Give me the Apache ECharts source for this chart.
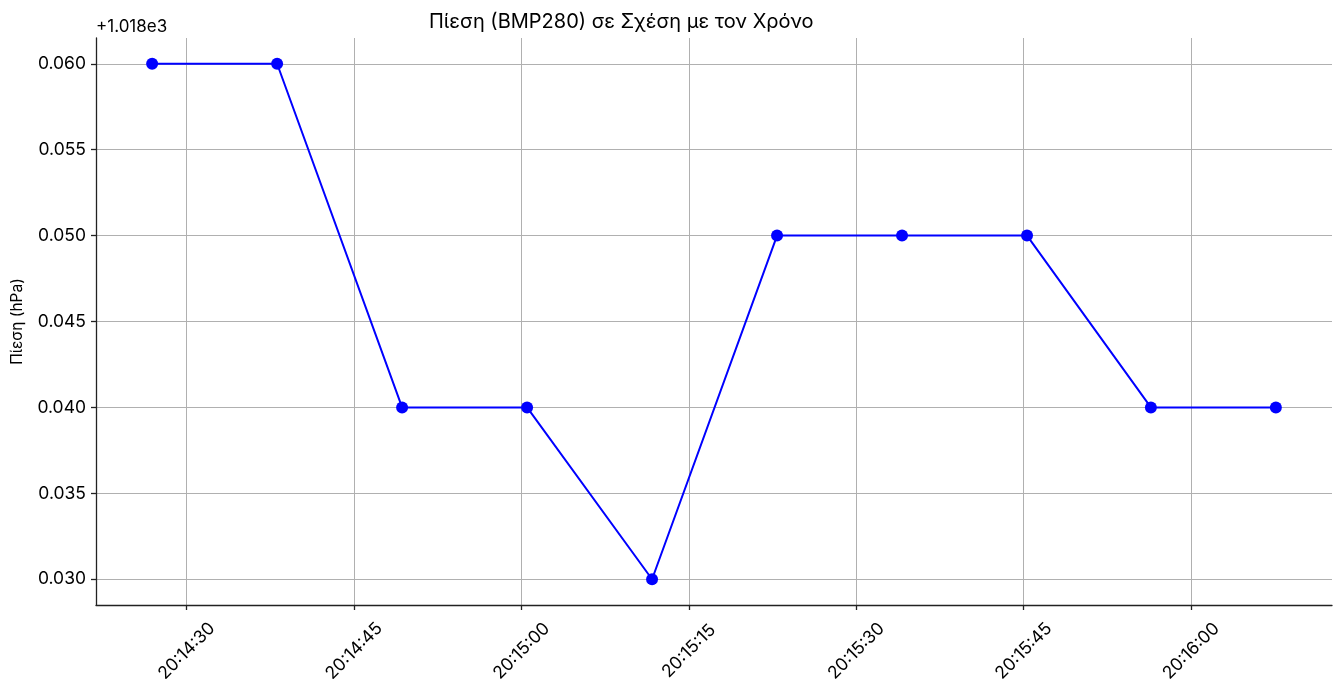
<!DOCTYPE html>
<html>
<head>
<meta charset="utf-8">
<script src="https://cdn.jsdelivr.net/npm/echarts@6/dist/echarts.min.js"></script>
<style>
  html, body { margin: 0; padding: 0; background: #fff; }
  #chart { width: 1341px; height: 679px; }
</style>
</head>
<body>
<div id="chart"></div>
<script>
// δεδομένα
var times = ['2024-01-01T20:14:26.900', '2024-01-01T20:14:38.100', '2024-01-01T20:14:49.300',
             '2024-01-01T20:15:00.500', '2024-01-01T20:15:11.700', '2024-01-01T20:15:22.900',
             '2024-01-01T20:15:34.100', '2024-01-01T20:15:45.300', '2024-01-01T20:15:56.400',
             '2024-01-01T20:16:07.600'];
var pressure = [1018.06, 1018.06, 1018.04, 1018.04, 1018.03, 1018.05, 1018.05, 1018.05, 1018.04, 1018.04];
var xTicks = ['2024-01-01T20:14:30', '2024-01-01T20:14:45', '2024-01-01T20:15:00', '2024-01-01T20:15:15',
              '2024-01-01T20:15:30', '2024-01-01T20:15:45', '2024-01-01T20:16:00'];
var yTicks = [1018.030, 1018.035, 1018.040, 1018.045, 1018.050, 1018.055, 1018.060];
var offset = 1018;

var font = 'Inter';
function ms(s) { return new Date(s).getTime(); }
var xTickValues = xTicks.map(ms);

var myChart = echarts.init(document.getElementById('chart'));
var option = {
    animation: false,
    textStyle: { fontFamily: font },
    title: {
        text: 'Πίεση (BMP280) σε Σχέση με τον Χρόνο',
        left: 424,
        top: 7,
        textStyle: { fontFamily: font, fontSize: 20, fontWeight: 'normal', color: '#000' }
    },
    graphic: [{
        type: 'text',
        left: 96,
        top: 18,
        style: { text: '+1.018e3', font: '17px ' + font, fill: '#000' }
    }],
    grid: { left: 96, right: 9, top: 38, bottom: 74, containLabel: false, outerBoundsMode: 'none' },
    xAxis: {
        type: 'value',
        min: ms('2024-01-01T20:14:21.870'),
        max: ms('2024-01-01T20:16:12.630'),
        axisLine: { lineStyle: { color: '#222', width: 1.3 } },
        axisTick: { show: true, length: 5, inside: false, customValues: xTickValues, lineStyle: { color: '#222', width: 1.3 } },
        splitLine: { show: true, lineStyle: { color: '#b0b0b0', width: 1 } },
        axisLabel: {
            customValues: xTickValues,
            rotate: 45,
            align: 'center',
            verticalAlign: 'middle',
            margin: 46,
            fontSize: 17.5,
            color: '#000',
            fontFamily: font,
            formatter: function (v) { return echarts.time.format(v, '{HH}:{mm}:{ss}', false); }
        }
    },
    yAxis: {
        type: 'value',
        min: 1018.0285,
        max: 1018.0615,
        name: 'Πίεση (hPa)',
        nameLocation: 'middle',
        nameGap: 71,
        nameTextStyle: { fontFamily: font, fontSize: 15.5, color: '#000' },
        axisLine: { show: true, lineStyle: { color: '#222', width: 1.3 } },
        axisTick: { show: true, length: 5, customValues: yTicks, lineStyle: { color: '#222', width: 1.3 } },
        splitLine: { show: true, lineStyle: { color: '#b0b0b0', width: 1 } },
        axisLabel: {
            customValues: yTicks,
            margin: 10,
            fontSize: 17.5,
            color: '#000',
            fontFamily: font,
            formatter: function (v) { return (v - offset).toFixed(3); }
        }
    },
    series: [{
        type: 'line',
        data: times.map(function (t, i) { return [ms(t), pressure[i]]; }),
        symbol: 'circle',
        symbolSize: 12,
        lineStyle: { color: '#0000ff', width: 2 },
        itemStyle: { color: '#0000ff' }
    }]
};
myChart.setOption(option);
</script>
</body>
</html>
